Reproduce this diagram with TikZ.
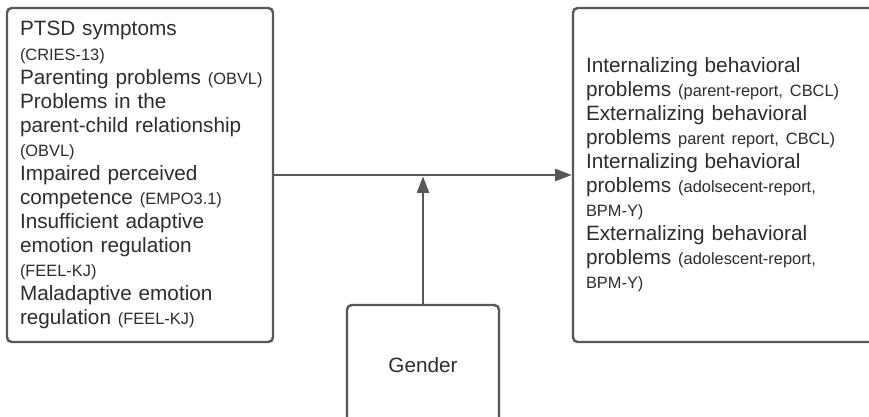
\documentclass[tikz,border=0pt]{standalone}
\usepackage{fontspec}
\setmainfont{Liberation Sans}
\usepackage{xcolor}
\definecolor{frame-gray}{RGB}{88,88,88}
\definecolor{text-gray}{RGB}{45,45,45}
\usetikzlibrary{arrows.meta,positioning}

% smaller text for the questionnaire names
\newcommand{\instr}[1]{{\fontsize{14}{20.5}\selectfont #1}}

\begin{document}
\begin{tikzpicture}[
    every node/.style={text=text-gray},
    varbox/.style={
        draw=frame-gray,
        line width=2.1pt,
        rounded corners=4pt,
        fill=white,
        inner xsep=0.39cm,
        inner ysep=0pt,
        align=left,
        font=\fontsize{17.7}{20.5}\selectfont
    },
    link/.style={
        draw=frame-gray,
        line width=2.1pt,
        -{Triangle[length=0.5cm,width=0.36cm]}
    }
]

% Canvas
\useasboundingbox (0,0) rectangle (26.07,-12.51);

% Predictors
\node[varbox, text width=7.2cm, minimum height=10.02cm] (pred) at (4.2,-5.25) {
PTSD symptoms\\
\instr{(CRIES-13)}\\
\mbox{Parenting problems \instr{(OBVL)}}\\
Problems in the\\
\mbox{parent-child relationship}\\
\instr{(OBVL)}\\
Impaired perceived\\
\mbox{competence \instr{(EMPO3.1)}}\\
Insufficient adaptive\\
emotion regulation\\
\instr{(FEEL-KJ)}\\
Maladaptive emotion\\
\mbox{regulation \instr{(FEEL-KJ)}}
};

% Outcomes
\node[varbox, text width=8.58cm, minimum height=10.02cm] (outc) at (21.87,-5.25) {
Internalizing behavioral\\
\mbox{problems \instr{(parent-report, CBCL)}}\\
Externalizing behavioral\\
\mbox{problems \instr{parent report, CBCL)}}\\
Internalizing behavioral\\
\mbox{problems \instr{(adolsecent-report,}}\\
\instr{BPM-Y)}\\
Externalizing behavioral\\
\mbox{problems \instr{(adolescent-report,}}\\
\instr{BPM-Y)}
};

% Moderator
\node[varbox, align=center, minimum width=4.56cm, minimum height=3.6cm] (gender) at (12.69,-10.95) {Gender};

% Paths
\draw[link] (pred.east) -- (outc.west);
\coordinate (junction) at (gender.north |- pred.east);
\draw[link] (gender.north) -- ([yshift=-1.1pt]junction);

\end{tikzpicture}
\end{document}
